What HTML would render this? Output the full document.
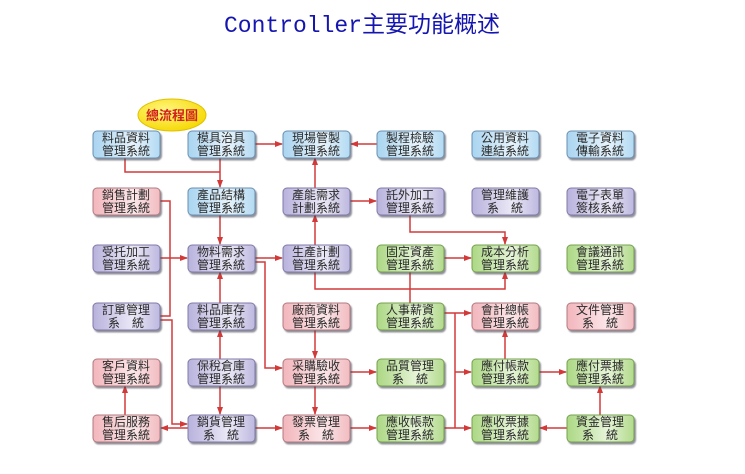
<!DOCTYPE html>
<html><head><meta charset="utf-8"><style>
html,body{margin:0;padding:0;background:#fff;width:745px;height:474px;overflow:hidden}
svg text{font-family:"Liberation Sans","Noto Sans CJK TC",sans-serif}
</style></head><body>
<svg width="745" height="474" viewBox="0 0 745 474" xmlns="http://www.w3.org/2000/svg">
<defs>
<marker id="a" markerWidth="8" markerHeight="8" refX="7" refY="4" orient="auto" markerUnits="userSpaceOnUse"><path d="M0,1 L8,4 L0,7 Z" fill="#d23a3a"/></marker>
<linearGradient id="gb" x1="0" y1="0" x2="1" y2="0"><stop offset="0" stop-color="#a9d4f0"/><stop offset=".6" stop-color="#e6f3fb"/><stop offset="1" stop-color="#b3daf2"/></linearGradient>
<linearGradient id="gp" x1="0" y1="0" x2="1" y2="0"><stop offset="0" stop-color="#f2b6bc"/><stop offset=".6" stop-color="#fbe6e8"/><stop offset="1" stop-color="#f1bcc1"/></linearGradient>
<linearGradient id="gu" x1="0" y1="0" x2="1" y2="0"><stop offset="0" stop-color="#b8b2dc"/><stop offset=".6" stop-color="#ebe9f6"/><stop offset="1" stop-color="#bdb8df"/></linearGradient>
<linearGradient id="gg" x1="0" y1="0" x2="1" y2="0"><stop offset="0" stop-color="#acd884"/><stop offset=".6" stop-color="#e6f4d8"/><stop offset="1" stop-color="#b2da8c"/></linearGradient>
<radialGradient id="gy" cx=".4" cy=".35" r=".7"><stop offset="0" stop-color="#fff680"/><stop offset="1" stop-color="#f5d800"/></radialGradient>
<filter id="sh" x="-10%" y="-20%" width="130%" height="150%"><feDropShadow dx="1.5" dy="2" stdDeviation="0.8" flood-color="#445" flood-opacity="0.6"/></filter>
</defs>
<text x="362" y="32" text-anchor="middle" font-size="23" fill="#1515b0" style="font-family:'Liberation Mono','Noto Sans CJK SC',monospace">Controller主要功能概述</text>

<g stroke="#d23a3a" stroke-width="1.5" fill="none">
<polyline points="125,157 125,172 220,172"/>
<line x1="220" y1="157" x2="220" y2="187" marker-end="url(#a)"/>
<line x1="255" y1="144" x2="282" y2="144" marker-end="url(#a)"/>
<line x1="377" y1="144" x2="351" y2="144" marker-end="url(#a)"/>
<line x1="315" y1="188" x2="315" y2="158" marker-end="url(#a)"/>
<line x1="350" y1="201" x2="376" y2="201" marker-end="url(#a)"/>
<line x1="315" y1="245" x2="315" y2="215" marker-end="url(#a)"/>
<line x1="220" y1="214" x2="220" y2="244" marker-end="url(#a)"/>
<polyline points="160,201 170,201 170,316 160,316"/>
<polyline points="160,320 172,320 172,424 187,424" marker-end="url(#a)"/>
<line x1="160" y1="258" x2="187" y2="258" marker-end="url(#a)"/>
<line x1="255" y1="258" x2="282" y2="258" marker-end="url(#a)"/>
<polyline points="255,262 265,262 265,368 282,368" marker-end="url(#a)"/>
<line x1="220" y1="303" x2="220" y2="272" marker-end="url(#a)"/>
<line x1="220" y1="359" x2="220" y2="330" marker-end="url(#a)"/>
<line x1="220" y1="385" x2="220" y2="414" marker-end="url(#a)"/>
<line x1="125" y1="415" x2="125" y2="386" marker-end="url(#a)"/>
<line x1="188" y1="428" x2="161" y2="428" marker-end="url(#a)"/>
<line x1="255" y1="428" x2="282" y2="428" marker-end="url(#a)"/>
<line x1="315" y1="329" x2="315" y2="358" marker-end="url(#a)"/>
<line x1="315" y1="385" x2="315" y2="414" marker-end="url(#a)"/>
<line x1="350" y1="372" x2="376" y2="372" marker-end="url(#a)"/>
<line x1="350" y1="428" x2="376" y2="428" marker-end="url(#a)"/>
<polyline points="315,271 315,289 505,289 505,272" marker-end="url(#a)"/>
<line x1="410" y1="271" x2="410" y2="303"/>
<polyline points="410,214 410,232 505,232 505,244" marker-end="url(#a)"/>
<line x1="444" y1="258" x2="471" y2="258" marker-end="url(#a)"/>
<line x1="444" y1="313" x2="471" y2="313" marker-end="url(#a)"/>
<line x1="455" y1="313" x2="455" y2="428"/>
<line x1="455" y1="372" x2="471" y2="372" marker-end="url(#a)"/>
<line x1="444" y1="428" x2="471" y2="428" marker-end="url(#a)"/>
<line x1="505" y1="359" x2="505" y2="330" marker-end="url(#a)"/>
<line x1="539" y1="372" x2="566" y2="372" marker-end="url(#a)"/>
<line x1="600" y1="415" x2="600" y2="386" marker-end="url(#a)"/>
<line x1="567" y1="428" x2="540" y2="428" marker-end="url(#a)"/>
</g>

<g filter="url(#sh)" stroke-width="1">
<rect x="93" y="131" width="67" height="27" rx="4" fill="url(#gb)" stroke="#6a8fb0"/>
<rect x="188" y="131" width="67" height="27" rx="4" fill="url(#gb)" stroke="#6a8fb0"/>
<rect x="283" y="131" width="67" height="27" rx="4" fill="url(#gb)" stroke="#6a8fb0"/>
<rect x="377" y="131" width="67" height="27" rx="4" fill="url(#gb)" stroke="#6a8fb0"/>
<rect x="472" y="131" width="67" height="27" rx="4" fill="url(#gb)" stroke="#6a8fb0"/>
<rect x="567" y="131" width="67" height="27" rx="4" fill="url(#gb)" stroke="#6a8fb0"/>
<rect x="93" y="188" width="67" height="27" rx="4" fill="url(#gp)" stroke="#b07a80"/>
<rect x="188" y="188" width="67" height="27" rx="4" fill="url(#gb)" stroke="#6a8fb0"/>
<rect x="283" y="188" width="67" height="27" rx="4" fill="url(#gu)" stroke="#7f79a8"/>
<rect x="377" y="188" width="67" height="27" rx="4" fill="url(#gu)" stroke="#7f79a8"/>
<rect x="472" y="188" width="67" height="27" rx="4" fill="url(#gu)" stroke="#7f79a8"/>
<rect x="567" y="188" width="67" height="27" rx="4" fill="url(#gu)" stroke="#7f79a8"/>
<rect x="93" y="245" width="67" height="27" rx="4" fill="url(#gu)" stroke="#7f79a8"/>
<rect x="188" y="245" width="67" height="27" rx="4" fill="url(#gu)" stroke="#7f79a8"/>
<rect x="283" y="245" width="67" height="27" rx="4" fill="url(#gu)" stroke="#7f79a8"/>
<rect x="377" y="245" width="67" height="27" rx="4" fill="url(#gg)" stroke="#76a050"/>
<rect x="472" y="245" width="67" height="27" rx="4" fill="url(#gg)" stroke="#76a050"/>
<rect x="567" y="245" width="67" height="27" rx="4" fill="url(#gg)" stroke="#76a050"/>
<rect x="93" y="303" width="67" height="27" rx="4" fill="url(#gu)" stroke="#7f79a8"/>
<rect x="188" y="303" width="67" height="27" rx="4" fill="url(#gu)" stroke="#7f79a8"/>
<rect x="283" y="303" width="67" height="27" rx="4" fill="url(#gp)" stroke="#b07a80"/>
<rect x="377" y="303" width="67" height="27" rx="4" fill="url(#gg)" stroke="#76a050"/>
<rect x="472" y="303" width="67" height="27" rx="4" fill="url(#gp)" stroke="#b07a80"/>
<rect x="567" y="303" width="67" height="27" rx="4" fill="url(#gp)" stroke="#b07a80"/>
<rect x="93" y="359" width="67" height="27" rx="4" fill="url(#gp)" stroke="#b07a80"/>
<rect x="188" y="359" width="67" height="27" rx="4" fill="url(#gu)" stroke="#7f79a8"/>
<rect x="283" y="359" width="67" height="27" rx="4" fill="url(#gp)" stroke="#b07a80"/>
<rect x="377" y="359" width="67" height="27" rx="4" fill="url(#gg)" stroke="#76a050"/>
<rect x="472" y="359" width="67" height="27" rx="4" fill="url(#gg)" stroke="#76a050"/>
<rect x="567" y="359" width="67" height="27" rx="4" fill="url(#gg)" stroke="#76a050"/>
<rect x="93" y="415" width="67" height="27" rx="4" fill="url(#gp)" stroke="#b07a80"/>
<rect x="188" y="415" width="67" height="27" rx="4" fill="url(#gu)" stroke="#7f79a8"/>
<rect x="283" y="415" width="67" height="27" rx="4" fill="url(#gp)" stroke="#b07a80"/>
<rect x="377" y="415" width="67" height="27" rx="4" fill="url(#gg)" stroke="#76a050"/>
<rect x="472" y="415" width="67" height="27" rx="4" fill="url(#gg)" stroke="#76a050"/>
<rect x="567" y="415" width="67" height="27" rx="4" fill="url(#gg)" stroke="#76a050"/>
</g>

<g font-size="12" text-anchor="middle" fill="#2a2a2a">
<text x="126" y="142">料品資料</text><text x="126" y="155">管理系統</text>
<text x="221" y="142">模具治具</text><text x="221" y="155">管理系統</text>
<text x="316" y="142">現場管製</text><text x="316" y="155">管理系統</text>
<text x="410" y="142">製程檢驗</text><text x="410" y="155">管理系統</text>
<text x="505" y="142">公用資料</text><text x="505" y="155">連結系統</text>
<text x="600" y="142">電子資料</text><text x="600" y="155">傳輸系統</text>
<text x="126" y="199">銷售計劃</text><text x="126" y="212">管理系統</text>
<text x="221" y="199">產品結構</text><text x="221" y="212">管理系統</text>
<text x="316" y="199">產能需求</text><text x="316" y="212">計劃系統</text>
<text x="410" y="199">託外加工</text><text x="410" y="212">管理系統</text>
<text x="505" y="199">管理維護</text><text x="505" y="212">系　統</text>
<text x="600" y="199">電子表單</text><text x="600" y="212">簽核系統</text>
<text x="126" y="256">受托加工</text><text x="126" y="269">管理系統</text>
<text x="221" y="256">物料需求</text><text x="221" y="269">管理系統</text>
<text x="316" y="256">生產計劃</text><text x="316" y="269">管理系統</text>
<text x="410" y="256">固定資產</text><text x="410" y="269">管理系統</text>
<text x="505" y="256">成本分析</text><text x="505" y="269">管理系統</text>
<text x="600" y="256">會議通訊</text><text x="600" y="269">管理系統</text>
<text x="126" y="314">訂單管理</text><text x="126" y="327">系　統</text>
<text x="221" y="314">料品庫存</text><text x="221" y="327">管理系統</text>
<text x="316" y="314">廠商資料</text><text x="316" y="327">管理系統</text>
<text x="410" y="314">人事薪資</text><text x="410" y="327">管理系統</text>
<text x="505" y="314">會計總帳</text><text x="505" y="327">管理系統</text>
<text x="600" y="314">文件管理</text><text x="600" y="327">系　統</text>
<text x="126" y="370">客戶資料</text><text x="126" y="383">管理系統</text>
<text x="221" y="370">保稅倉庫</text><text x="221" y="383">管理系統</text>
<text x="316" y="370">采購驗收</text><text x="316" y="383">管理系統</text>
<text x="410" y="370">品質管理</text><text x="410" y="383">系　統</text>
<text x="505" y="370">應付帳款</text><text x="505" y="383">管理系統</text>
<text x="600" y="370">應付票據</text><text x="600" y="383">管理系統</text>
<text x="126" y="426">售后服務</text><text x="126" y="439">管理系統</text>
<text x="221" y="426">銷貨管理</text><text x="221" y="439">系　統</text>
<text x="316" y="426">發票管理</text><text x="316" y="439">系　統</text>
<text x="410" y="426">應收帳款</text><text x="410" y="439">管理系統</text>
<text x="505" y="426">應收票據</text><text x="505" y="439">管理系統</text>
<text x="600" y="426">資金管理</text><text x="600" y="439">系　統</text>
</g>
<ellipse cx="172" cy="115" rx="34" ry="16" fill="url(#gy)" stroke="#e0c000"/>
<text x="172" y="120" text-anchor="middle" font-size="13" font-weight="bold" fill="#d02020">總流程圖</text>
</svg>
</body></html>
